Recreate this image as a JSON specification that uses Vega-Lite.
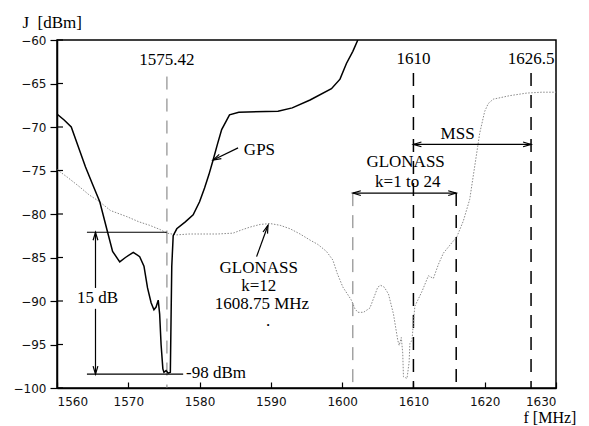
{
  "$schema": "https://vega.github.io/schema/vega-lite/v6.json",
  "width": 499,
  "height": 348,
  "autosize": {"type": "none"},
  "padding": {"left": 57, "top": 40, "right": 33, "bottom": 38},
  "background": "white",
  "config": {
    "view": {"stroke": "black", "strokeWidth": 1.5},
    "axis": {
      "domainColor": "black", "domainWidth": 1.5, "tickColor": "black", "tickWidth": 1.2,
      "labelFont": "DejaVu Sans", "labelFontSize": 12, "labelColor": "#111",
      "titleFont": "Liberation Serif", "titleFontSize": 17, "titleFontWeight": "normal", "titleColor": "black",
      "grid": false
    },
    "text": {"font": "Liberation Serif", "fontSize": 17, "color": "black"}
  },
  "datasets": {
    "gps": [
      {"f": 1560.0, "J": -68.5}, {"f": 1561.0, "J": -69.2}, {"f": 1562.0, "J": -70.0}, {"f": 1563.0, "J": -72.3},
      {"f": 1564.0, "J": -74.6}, {"f": 1565.0, "J": -76.6}, {"f": 1566.0, "J": -78.6}, {"f": 1567.1, "J": -82.1},
      {"f": 1567.8, "J": -84.3}, {"f": 1568.8, "J": -85.5}, {"f": 1569.6, "J": -85.0}, {"f": 1570.7, "J": -84.4},
      {"f": 1571.6, "J": -84.9}, {"f": 1572.2, "J": -86.0}, {"f": 1572.7, "J": -88.5}, {"f": 1573.2, "J": -90.2},
      {"f": 1573.6, "J": -91.0}, {"f": 1573.9, "J": -90.7}, {"f": 1574.2, "J": -89.9}, {"f": 1574.4, "J": -91.5},
      {"f": 1574.6, "J": -95.0}, {"f": 1574.85, "J": -97.8}, {"f": 1575.0, "J": -98.2}, {"f": 1575.3, "J": -98.0},
      {"f": 1575.6, "J": -98.3}, {"f": 1575.9, "J": -98.2}, {"f": 1576.0, "J": -92.0}, {"f": 1576.1, "J": -86.0},
      {"f": 1576.3, "J": -82.5}, {"f": 1576.8, "J": -81.7}, {"f": 1578.0, "J": -80.9}, {"f": 1579.1, "J": -80.1},
      {"f": 1580.0, "J": -78.6}, {"f": 1580.7, "J": -77.0}, {"f": 1581.3, "J": -75.5}, {"f": 1581.9, "J": -73.8},
      {"f": 1582.5, "J": -72.0}, {"f": 1583.1, "J": -70.3}, {"f": 1584.2, "J": -68.6}, {"f": 1585.5, "J": -68.3},
      {"f": 1591.0, "J": -68.2}, {"f": 1593.0, "J": -67.8}, {"f": 1595.5, "J": -66.9}, {"f": 1598.5, "J": -65.6},
      {"f": 1599.7, "J": -64.5}, {"f": 1600.6, "J": -62.7}, {"f": 1601.5, "J": -61.3}, {"f": 1602.2, "J": -60.0}
    ],
    "glonass": [
      {"f": 1560.0, "J": -74.9}, {"f": 1561.5, "J": -75.8}, {"f": 1563.2, "J": -76.9}, {"f": 1564.5, "J": -77.8},
      {"f": 1566.0, "J": -78.6}, {"f": 1567.5, "J": -79.6}, {"f": 1568.8, "J": -80.0}, {"f": 1569.8, "J": -80.3},
      {"f": 1571.5, "J": -80.9}, {"f": 1573.0, "J": -81.3}, {"f": 1574.5, "J": -81.8}, {"f": 1575.4, "J": -82.2},
      {"f": 1576.8, "J": -82.4}, {"f": 1578.5, "J": -82.3}, {"f": 1580.0, "J": -82.3}, {"f": 1582.5, "J": -82.3},
      {"f": 1584.7, "J": -82.2}, {"f": 1586.0, "J": -81.8}, {"f": 1587.1, "J": -81.5}, {"f": 1588.5, "J": -81.2},
      {"f": 1589.9, "J": -81.1}, {"f": 1591.3, "J": -81.3}, {"f": 1592.7, "J": -81.7}, {"f": 1594.1, "J": -82.3},
      {"f": 1595.5, "J": -83.0}, {"f": 1596.6, "J": -83.5}, {"f": 1597.8, "J": -84.3}, {"f": 1598.7, "J": -85.3},
      {"f": 1599.3, "J": -86.8}, {"f": 1600.1, "J": -88.4}, {"f": 1601.3, "J": -89.9}, {"f": 1601.8, "J": -90.9},
      {"f": 1602.2, "J": -91.3}, {"f": 1603.0, "J": -91.3}, {"f": 1603.9, "J": -90.8}, {"f": 1604.5, "J": -89.5},
      {"f": 1605.0, "J": -88.4}, {"f": 1605.4, "J": -88.2}, {"f": 1605.9, "J": -88.4}, {"f": 1606.5, "J": -89.2},
      {"f": 1607.2, "J": -91.5}, {"f": 1607.8, "J": -94.5}, {"f": 1608.0, "J": -95.1}, {"f": 1608.3, "J": -94.2},
      {"f": 1608.5, "J": -96.0}, {"f": 1608.6, "J": -98.7}, {"f": 1609.1, "J": -98.9}, {"f": 1609.4, "J": -97.0},
      {"f": 1609.5, "J": -94.9}, {"f": 1609.8, "J": -94.5}, {"f": 1610.0, "J": -92.5}, {"f": 1610.2, "J": -90.6},
      {"f": 1611.2, "J": -88.9}, {"f": 1612.1, "J": -87.1}, {"f": 1612.8, "J": -87.4}, {"f": 1613.5, "J": -85.8},
      {"f": 1614.2, "J": -84.5}, {"f": 1615.2, "J": -83.5}, {"f": 1616.1, "J": -82.6}, {"f": 1617.0, "J": -80.8},
      {"f": 1617.9, "J": -78.3}, {"f": 1618.6, "J": -74.5}, {"f": 1619.3, "J": -70.7}, {"f": 1620.0, "J": -68.2},
      {"f": 1620.5, "J": -67.3}, {"f": 1621.2, "J": -66.8}, {"f": 1623.5, "J": -66.4}, {"f": 1625.9, "J": -66.1},
      {"f": 1628.0, "J": -66.0}, {"f": 1630.0, "J": -66.0}
    ],
    "refBlack": [
      {"f": 1610, "J": -63.8, "J2": -100},
      {"f": 1616, "J": -77.6, "J2": -100},
      {"f": 1626.5, "J": -63.8, "J2": -100}
    ],
    "refGray": [
      {"f": 1575.42, "J": -64.2, "J2": -100},
      {"f": 1601.5, "J": -77.6, "J2": -100}
    ],
    "segs": [
      {"f": 1564.2, "f2": 1575.4, "J": -82.1, "J2": -82.1},
      {"f": 1564.2, "f2": 1577.7, "J": -98.4, "J2": -98.4},
      {"f": 1565.4, "f2": 1565.4, "J": -82.1, "J2": -88.5},
      {"f": 1565.4, "f2": 1565.4, "J": -90.9, "J2": -98.4},
      {"f": 1610, "f2": 1626.5, "J": -72.0, "J2": -72.0},
      {"f": 1601.5, "f2": 1616, "J": -77.6, "J2": -77.6},
      {"f": 1585.4, "f2": 1581.9, "J": -72.4, "J2": -73.8},
      {"f": 1588.0, "f2": 1589.6, "J": -84.9, "J2": -81.3}
    ],
    "yticks": [
      {"J": -60}, {"J": -65}, {"J": -70}, {"J": -75}, {"J": -80}, {"J": -85}, {"J": -90}, {"J": -95}, {"J": -100}
    ],
    "headRight": [{"f": 1626.5, "J": -72.0}, {"f": 1616, "J": -77.6}],
    "headLeft": [{"f": 1610, "J": -72.0}, {"f": 1601.5, "J": -77.6}],
    "headUp": [{"f": 1565.4, "J": -82.1}],
    "headDown": [{"f": 1565.4, "J": -98.4}],
    "headGps": [{"f": 1581.9, "J": -73.8}],
    "headGlo": [{"f": 1589.6, "J": -81.3}],
    "labelsCenter": [
      {"f": 1575.42, "J": -62.3, "label": "1575.42"},
      {"f": 1610, "J": -62.2, "label": "1610"},
      {"f": 1626.5, "J": -62.2, "label": "1626.5"},
      {"f": 1616.2, "J": -70.8, "label": "MSS"},
      {"f": 1608.9, "J": -74.0, "label": "GLONASS"},
      {"f": 1609.2, "J": -76.3, "label": "k=1 to 24"},
      {"f": 1588.4, "J": -72.6, "label": "GPS"},
      {"f": 1588.3, "J": -86.2, "label": "GLONASS"},
      {"f": 1588.3, "J": -88.3, "label": "k=12"},
      {"f": 1588.75, "J": -90.3, "label": "1608.75 MHz"},
      {"f": 1589.6, "J": -92.3, "label": "."},
      {"f": 1565.7, "J": -89.7, "label": "15 dB"}
    ],
    "labelsLeft": [
      {"f": 1578.1, "J": -98.3, "label": "-98 dBm"}
    ]
  },
  "layer": [
    {
      "data": {"name": "refGray"},
      "mark": {"type": "rule", "color": "#777", "strokeWidth": 1, "strokeDash": [13, 9]},
      "encoding": {
        "x": {"field": "f", "type": "quantitative", "scale": {"domain": [1560, 1630], "nice": false, "zero": false},
              "axis": {"values": [1560, 1570, 1580, 1590, 1600, 1610, 1620, 1630], "tickSize": -6, "labelPadding": 14, "format": "d",
                       "title": "f [MHz]", "titleFontSize": 16, "titleAlign": "left", "titleAnchor": "start", "titleX": 466, "titleY": 29, "titleBaseline": "middle"}},
        "y": {"field": "J", "type": "quantitative", "scale": {"domain": [-100, -60], "nice": false, "zero": false},
              "axis": {"values": [-100, -95, -90, -85, -80, -75, -70, -65, -60], "tickSize": 7, "labelPadding": 4,
                       "title": "J\u00a0\u00a0[dBm]", "titleAngle": 0, "titleAlign": "left", "titleAnchor": "start", "titleX": -35, "titleY": -18, "titleBaseline": "middle"}},
        "y2": {"field": "J2"}
      }
    },
    {
      "data": {"name": "refBlack"},
      "mark": {"type": "rule", "color": "black", "strokeWidth": 1.5, "strokeDash": [13, 9]},
      "encoding": {
        "x": {"field": "f", "type": "quantitative"},
        "y": {"field": "J", "type": "quantitative"},
        "y2": {"field": "J2"}
      }
    },
    {
      "data": {"name": "glonass"},
      "mark": {"type": "line", "color": "#8a8a8a", "strokeWidth": 1, "strokeDash": [1.5, 1.5]},
      "encoding": {
        "x": {"field": "f", "type": "quantitative"},
        "y": {"field": "J", "type": "quantitative"}
      }
    },
    {
      "data": {"name": "gps"},
      "mark": {"type": "line", "color": "black", "strokeWidth": 1.5, "clip": true},
      "encoding": {
        "x": {"field": "f", "type": "quantitative"},
        "y": {"field": "J", "type": "quantitative"}
      }
    },
    {
      "data": {"name": "segs"},
      "mark": {"type": "rule", "color": "black", "strokeWidth": 1.2},
      "encoding": {
        "x": {"field": "f", "type": "quantitative"},
        "x2": {"field": "f2"},
        "y": {"field": "J", "type": "quantitative"},
        "y2": {"field": "J2"}
      }
    },
    {
      "data": {"name": "yticks"},
      "mark": {"type": "rule", "color": "black", "strokeWidth": 1.2},
      "encoding": {
        "x": {"datum": 1560, "type": "quantitative"},
        "x2": {"datum": 1560.84},
        "y": {"field": "J", "type": "quantitative"}
      }
    },
    {
      "data": {"name": "headRight"},
      "mark": {"type": "point", "shape": "M-1,-0.3L0,0L-1,0.3", "size": 256, "filled": false, "stroke": "black", "strokeWidth": 1.2, "angle": 0, "opacity": 1},
      "encoding": {"x": {"field": "f", "type": "quantitative"}, "y": {"field": "J", "type": "quantitative"}}
    },
    {
      "data": {"name": "headLeft"},
      "mark": {"type": "point", "shape": "M-1,-0.3L0,0L-1,0.3", "size": 256, "filled": false, "stroke": "black", "strokeWidth": 1.2, "angle": 180, "opacity": 1},
      "encoding": {"x": {"field": "f", "type": "quantitative"}, "y": {"field": "J", "type": "quantitative"}}
    },
    {
      "data": {"name": "headUp"},
      "mark": {"type": "point", "shape": "M-1,-0.3L0,0L-1,0.3", "size": 256, "filled": false, "stroke": "black", "strokeWidth": 1.2, "angle": 270, "opacity": 1},
      "encoding": {"x": {"field": "f", "type": "quantitative"}, "y": {"field": "J", "type": "quantitative"}}
    },
    {
      "data": {"name": "headDown"},
      "mark": {"type": "point", "shape": "M-1,-0.3L0,0L-1,0.3", "size": 256, "filled": false, "stroke": "black", "strokeWidth": 1.2, "angle": 90, "opacity": 1},
      "encoding": {"x": {"field": "f", "type": "quantitative"}, "y": {"field": "J", "type": "quantitative"}}
    },
    {
      "data": {"name": "headGps"},
      "mark": {"type": "point", "shape": "M-1,-0.3L0,0L-1,0.3", "size": 256, "filled": false, "stroke": "black", "strokeWidth": 1.2, "angle": 154, "opacity": 1},
      "encoding": {"x": {"field": "f", "type": "quantitative"}, "y": {"field": "J", "type": "quantitative"}}
    },
    {
      "data": {"name": "headGlo"},
      "mark": {"type": "point", "shape": "M-1,-0.3L0,0L-1,0.3", "size": 256, "filled": false, "stroke": "black", "strokeWidth": 1.2, "angle": -70, "opacity": 1},
      "encoding": {"x": {"field": "f", "type": "quantitative"}, "y": {"field": "J", "type": "quantitative"}}
    },
    {
      "data": {"name": "labelsCenter"},
      "mark": {"type": "text", "align": "center", "baseline": "middle"},
      "encoding": {
        "x": {"field": "f", "type": "quantitative"},
        "y": {"field": "J", "type": "quantitative"},
        "text": {"field": "label"}
      }
    },
    {
      "data": {"name": "labelsLeft"},
      "mark": {"type": "text", "align": "left", "baseline": "middle"},
      "encoding": {
        "x": {"field": "f", "type": "quantitative"},
        "y": {"field": "J", "type": "quantitative"},
        "text": {"field": "label"}
      }
    }
  ]
}
